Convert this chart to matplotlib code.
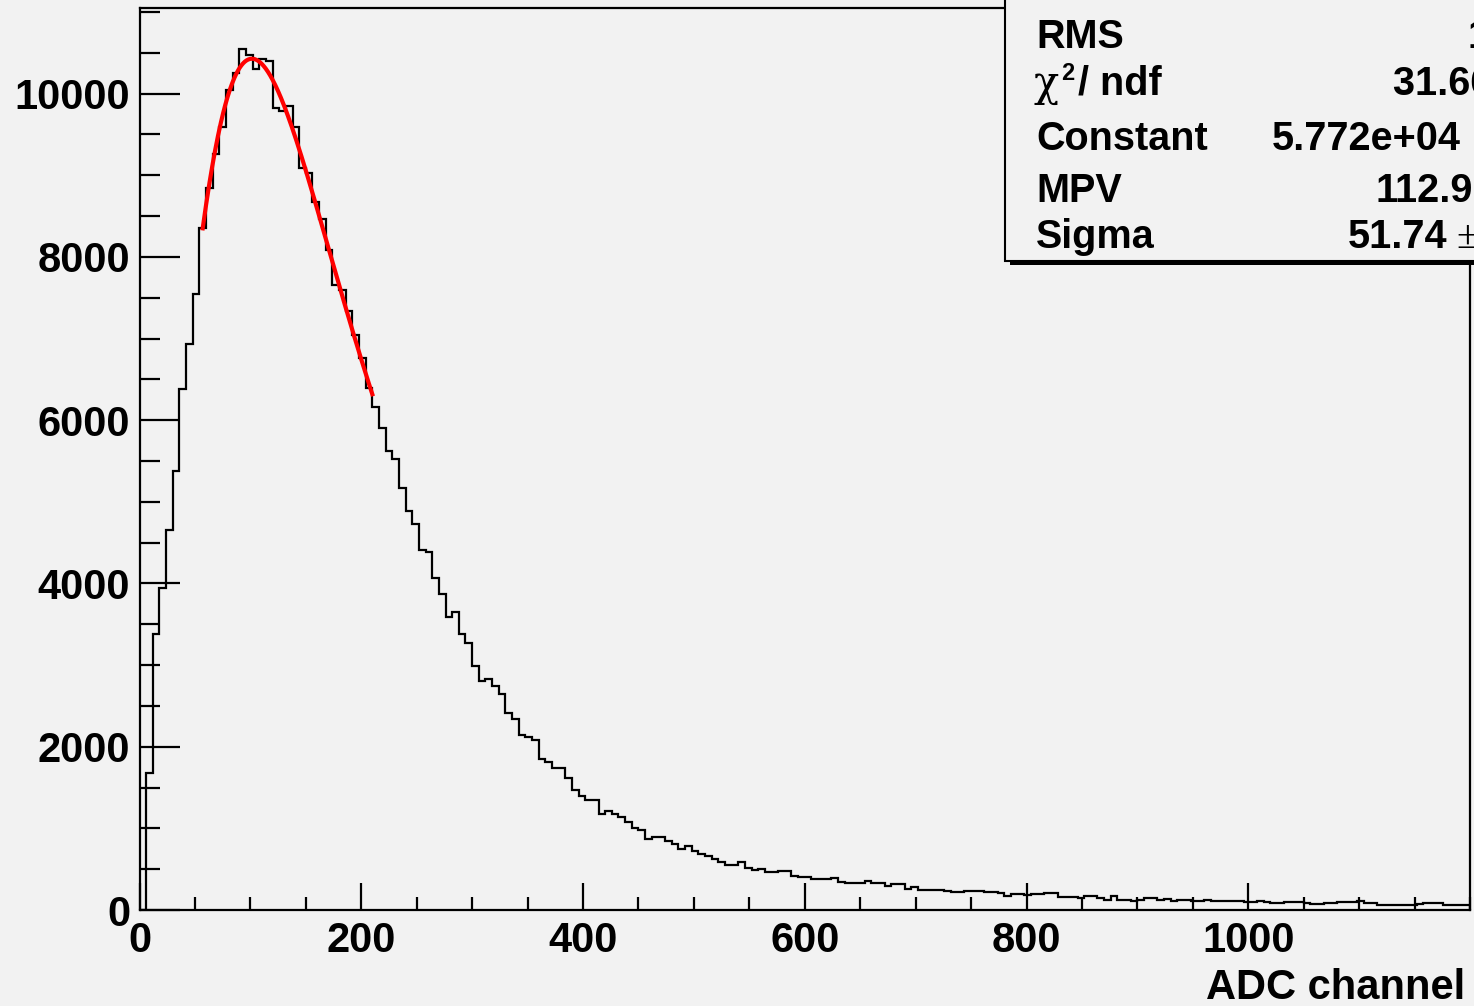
"""ADC spectrum with a Landau fit, ROOT style."""

import numpy as np
import matplotlib

matplotlib.use("Agg")
import matplotlib.pyplot as plt
from matplotlib.patches import Rectangle
from matplotlib.ticker import MultipleLocator

# histogram: 200 bins of width 6 over 0..1200
bin_edges = np.arange(0, 1206, 6)
counts = [
    0, 1680, 3380, 3950, 4660, 5380, 6380, 6930, 7550, 8350,
    8840, 9260, 9590, 10050, 10255, 10545, 10470, 10300, 10425, 10395,
    9825, 9785, 9845, 9590, 9090, 9030, 8670, 8465, 8080, 7655,
    7595, 7335, 7040, 6765, 6400, 6160, 5910, 5620, 5520, 5165,
    4890, 4725, 4405, 4380, 4065, 3865, 3590, 3645, 3385, 3270,
    2990, 2800, 2825, 2740, 2645, 2410, 2345, 2145, 2115, 2085,
    1850, 1810, 1740, 1740, 1615, 1470, 1400, 1350, 1350, 1175,
    1215, 1175, 1135, 1080, 1010, 985, 875, 895, 890, 850,
    810, 745, 785, 720, 690, 665, 625, 590, 555, 555,
    585, 520, 490, 500, 470, 460, 475, 480, 420, 405,
    408, 380, 380, 385, 388, 340, 330, 330, 330, 350,
    330, 330, 290, 318, 318, 257, 286, 249, 249, 249,
    249, 237, 216, 216, 237, 237, 237, 224, 224, 204,
    175, 196, 196, 184, 196, 196, 204, 204, 155, 155,
    163, 143, 167, 167, 151, 122, 167, 122, 122, 114,
    126, 147, 147, 126, 135, 114, 126, 126, 114, 114,
    126, 114, 114, 106, 106, 114, 94, 94, 106, 102,
    86, 86, 94, 94, 94, 86, 77, 77, 86, 86,
    94, 94, 94, 106, 86, 86, 65, 65, 65, 65,
    65, 65, 73, 86, 86, 86, 65, 65, 65, 65,
]

# Landau fit parameters (from the stats box) and fit range
fit_constant = 5.772e04
fit_mpv = 112.9
fit_sigma = 51.74
fit_range = (57, 210)

x_ticks = [0, 200, 400, 600, 800, 1000]
y_ticks = [0, 2000, 4000, 6000, 8000, 10000]

stat_labels = ["RMS", "/ ndf", "Constant", "MPV", "Sigma"]
stat_values = ["164.9", "31.66 / 25", "5.772e+04", "112.9", "51.74"]

BG = "#f2f2f2"
W, H = 1474, 1006
FONT = "Liberation Sans"


def fx(x):
    return x / W


def fy(y):
    return 1 - y / H


def landau(x, mpv, sigma):
    """Unnormalised Landau density, as TMath::Landau."""
    lam = (np.asarray(x) - mpv) / sigma
    t = np.linspace(1e-9, 60, 60001)
    f = np.exp(-t * np.log(t) - lam[:, None] * t) * np.sin(np.pi * t)
    return np.trapezoid(f, t, axis=1) / np.pi


fig = plt.figure(figsize=(W / 100, H / 100), dpi=100, facecolor=BG)
ax = fig.add_axes([fx(139.5), fy(910), fx(1470) - fx(139.5), fy(7.5) - fy(910)])
ax.set_facecolor(BG)

ax.stairs(counts, bin_edges, color="black", lw=1.6)

xf = np.linspace(*fit_range, 300)
ax.plot(xf, fit_constant * landau(xf, fit_mpv, fit_sigma), color="red", lw=3)

ax.set_xlim(0, 1200)
ax.set_ylim(0, 11055)
ax.set_xticks(x_ticks)
ax.set_yticks(y_ticks)
ax.xaxis.set_minor_locator(MultipleLocator(50))
ax.yaxis.set_minor_locator(MultipleLocator(500))

for spine in ax.spines.values():
    spine.set_linewidth(1.6)

ax.tick_params(axis="y", which="major", direction="in", length=28.8, width=1.6, pad=6.8)
ax.tick_params(axis="y", which="minor", direction="in", length=14.4, width=1.6)
ax.tick_params(axis="x", which="major", direction="in", length=19.4, width=1.6, pad=8)
ax.tick_params(axis="x", which="minor", direction="in", length=9.4, width=1.6)
for lab in ax.get_xticklabels() + ax.get_yticklabels():
    lab.set_fontfamily(FONT)
    lab.set_fontweight("bold")
    lab.set_fontsize(30)

fig.text(fx(1465), fy(999), "ADC channel", ha="right", va="baseline",
         family=FONT, weight="bold", fontsize=30)

# stats box with shadow, clipped by the canvas edge
fig.add_artist(Rectangle((fx(1010), fy(265)), fx(500), fy(-20) - fy(265),
                         transform=fig.transFigure, facecolor="black", lw=0))
fig.add_artist(Rectangle((fx(1005), fy(261)), fx(500), fy(-20) - fy(261),
                         transform=fig.transFigure, facecolor=BG,
                         edgecolor="black", lw=1.5))

row_base = [48.3, 94.3, 150, 201.7, 248.3]
label_x = [1036, 1078, 1036, 1036, 1036]
value_x = [1468, 1393, 1271.7, 1375, 1347.7]
for lab, val, y, lx, vx in zip(stat_labels, stat_values, row_base, label_x, value_x):
    fig.text(fx(lx), fy(y), lab, va="baseline", family=FONT, weight="bold", fontsize=28.5)
    fig.text(fx(vx), fy(y), val, va="baseline", family=FONT, weight="bold", fontsize=28.5)
fig.text(fx(1034), fy(96), "χ", va="baseline", family="DejaVu Serif", fontsize=30)
fig.text(fx(1061), fy(80), "2", va="baseline", family=FONT, weight="bold", fontsize=17)
fig.text(fx(1456.7), fy(248.3), "±", va="baseline", family="Liberation Serif", fontsize=28.5)

fig.savefig("out.png", dpi=100, facecolor=BG)
